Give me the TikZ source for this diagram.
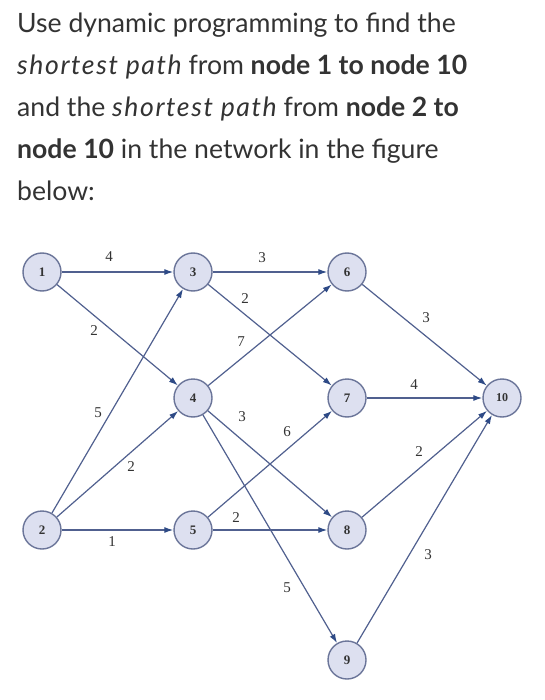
\documentclass[tikz,border=0pt]{standalone}
\usepackage{fontspec}
\setmainfont{Liberation Serif}
\newfontfamily\lato{Lato}
\newfontfamily\latoit[LetterSpace=6]{Lato Italic}
\usetikzlibrary{arrows.meta}
\definecolor{txt}{HTML}{333333}
\definecolor{nfill}{HTML}{DDE0F0}
\definecolor{nline}{HTML}{6B7599}
\definecolor{eline}{HTML}{50608F}
\definecolor{ahead}{HTML}{2E4A86}
\newcommand{\shpath}{{\latoit shortest path}}
\tikzset{
  hdr/.style={anchor=base west, inner sep=0pt, text=txt, font=\lato\fontsize{26.6}{30}\selectfont},
  vtx/.style={circle, minimum size=38pt, inner sep=0pt, fill=nfill, draw=nline, line width=1.4pt, text=txt, font=\fontsize{13}{15}\selectfont\bfseries},
  edge/.style={draw=eline, line width=1.2pt, -{Latex[length=9pt,width=6pt,color=ahead]}},
  wt/.style={inner sep=0pt, text=txt, font=\fontsize{15}{17}\selectfont}
}
\begin{document}
\begin{tikzpicture}[x=1pt,y=-1pt]
\useasboundingbox (0,0) rectangle (545,700);
\fill[white] (0,0) rectangle (545,700);
% header
\node[hdr] (h1) at (17,33) {Use dynamic programming to find the};
\node[hdr] (h2) at (17,75) {\shpath{} from \textbf{node 1 to node 10}};
\node[hdr] (h3) at (17,117) {and the \shpath{} from \textbf{node 2 to}};
\node[hdr] (h4) at (17,159) {\textbf{node 10} in the network in the figure};
\node[hdr] (h5) at (17,201) {below:};
% nodes
\node[vtx] (n1) at (42,272) {1};
\node[vtx] (n2) at (42,530) {2};
\node[vtx] (n3) at (193,272) {3};
\node[vtx] (n4) at (193,398) {4};
\node[vtx] (n5) at (193,530) {5};
\node[vtx] (n6) at (347,272) {6};
\node[vtx] (n7) at (347,398) {7};
\node[vtx] (n8) at (347,530) {8};
\node[vtx] (n9) at (347,660) {9};
\node[vtx, font=\fontsize{12}{14}\selectfont\bfseries] (n10) at (502,398) {10};
% edges
\draw[edge] (n1) -- (n3);
\draw[edge] (n1) -- (n4);
\draw[edge] (n2) -- (n3);
\draw[edge] (n2) -- (n4);
\draw[edge] (n2) -- (n5);
\draw[edge] (n3) -- (n6);
\draw[edge] (n3) -- (n7);
\draw[edge] (n4) -- (n6);
\draw[edge] (n4) -- (n8);
\draw[edge] (n4) -- (n9);
\draw[edge] (n5) -- (n7);
\draw[edge] (n5) -- (n8);
\draw[edge] (n6) -- (n10);
\draw[edge] (n7) -- (n10);
\draw[edge] (n8) -- (n10);
\draw[edge] (n9) -- (n10);
% weights
\node[wt] (w13) at (109,257) {4};
\node[wt] (w36) at (262,258) {3};
\node[wt] (w37) at (245,299) {2};
\node[wt] (w14) at (94,331) {2};
\node[wt] (w46) at (241,342) {7};
\node[wt] (w23) at (98,413) {5};
\node[wt] (w48) at (242,417) {3};
\node[wt] (w610) at (426,318) {3};
\node[wt] (w710) at (414,385) {4};
\node[wt] (w57) at (287,432) {6};
\node[wt] (w24) at (131,467) {2};
\node[wt] (w58) at (236,518) {2};
\node[wt] (w25) at (112,542) {1};
\node[wt] (w810) at (419,452) {2};
\node[wt] (w49) at (287,588) {5};
\node[wt] (w910) at (428,555) {3};
\end{tikzpicture}
\end{document}
